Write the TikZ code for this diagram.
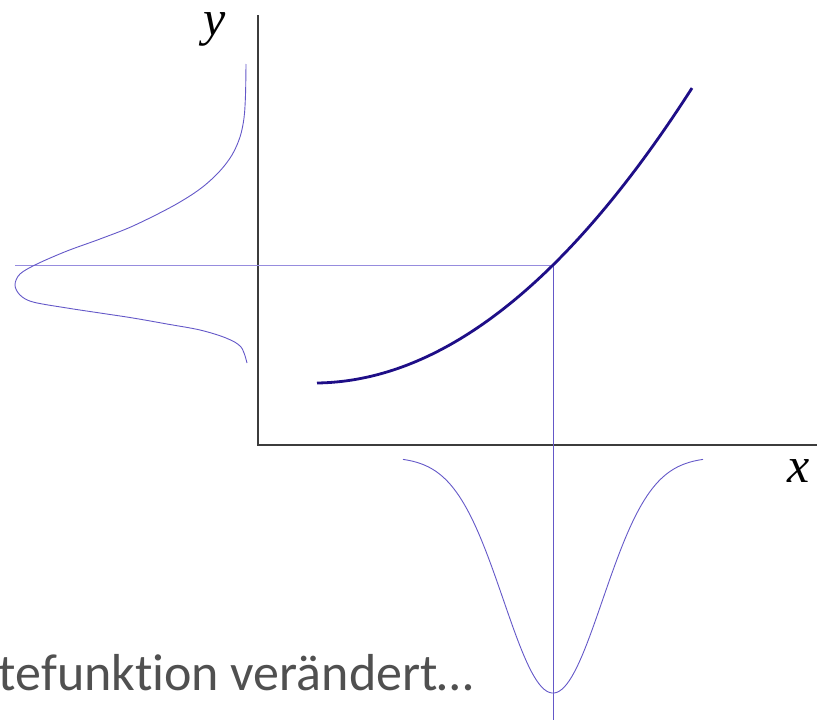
\documentclass[tikz,border=0pt]{standalone}
\usepackage{fontspec}
\setmainfont{Liberation Serif}
\newfontfamily\labelfont[Ligatures=NoCommon]{Carlito}
\definecolor{curveblue}{RGB}{30,14,135}
\definecolor{thinblue}{RGB}{100,88,200}
\definecolor{guideblue}{RGB}{150,140,222}
\definecolor{axisgray}{RGB}{60,60,60}
\definecolor{textgray}{RGB}{80,80,80}
\begin{document}
\begin{tikzpicture}[x=1pt,y=-1pt,
  axisline/.style={draw=axisgray,line width=1.6pt},
  mainline/.style={draw=curveblue,line width=2.8pt},
  densline/.style={draw=thinblue,line width=0.9pt},
  guideline/.style={line width=1pt},
  axlabel/.style={font=\fontsize{50}{50}\selectfont\itshape,inner sep=0pt}]
\useasboundingbox (0,0) rectangle (817,720);
\clip (0,0) rectangle (817,720);
\coordinate (O) at (258,445);
\coordinate (Ytop) at (258,15);
\coordinate (Xend) at (817,445);
\coordinate (P) at (553,265);
\coordinate (Hl) at (15,265);
\coordinate (Vb) at (553,720);
% axes
\draw[axisline] (Ytop) -- (O) -- (Xend);
\node[axlabel] (ylab) at (215,29) {y};
\node[axlabel] (xlab) at (799,471) {x};
% guide lines
\draw[guideline,draw=guideblue] (Hl) -- (P);
\draw[guideline,draw=thinblue] (P) -- (Vb);
% main curve
\draw[mainline] plot[domain=317:692,samples=80] (\x,{383-20.62*((\x-317)/100)^2-1.33*((\x-317)/100)});
% bottom density
\draw[densline] plot[domain=403:703,samples=120] (\x,{457+236*exp(-((\x-553)/49.5)^2/2)});
% left density
\draw[densline] plot[smooth,tension=0.55] coordinates {(246,64) (245.5,95) (244,118) (240,137) (232,155) (219,172) (200,189) (173,206) (133,226) (100,239) (67,251) (37,264) (20,274) (15,285) (20,295) (33,302) (67,308) (100,313) (133,318) (167,324) (200,330) (226,338) (241,347) (247,363)};
% caption text
\node[anchor=base east,inner sep=0pt,text=textgray,font=\labelfont\fontsize{52}{52}\selectfont] (cap) at (474,690) {tefunktion verändert…};
\end{tikzpicture}
\end{document}
